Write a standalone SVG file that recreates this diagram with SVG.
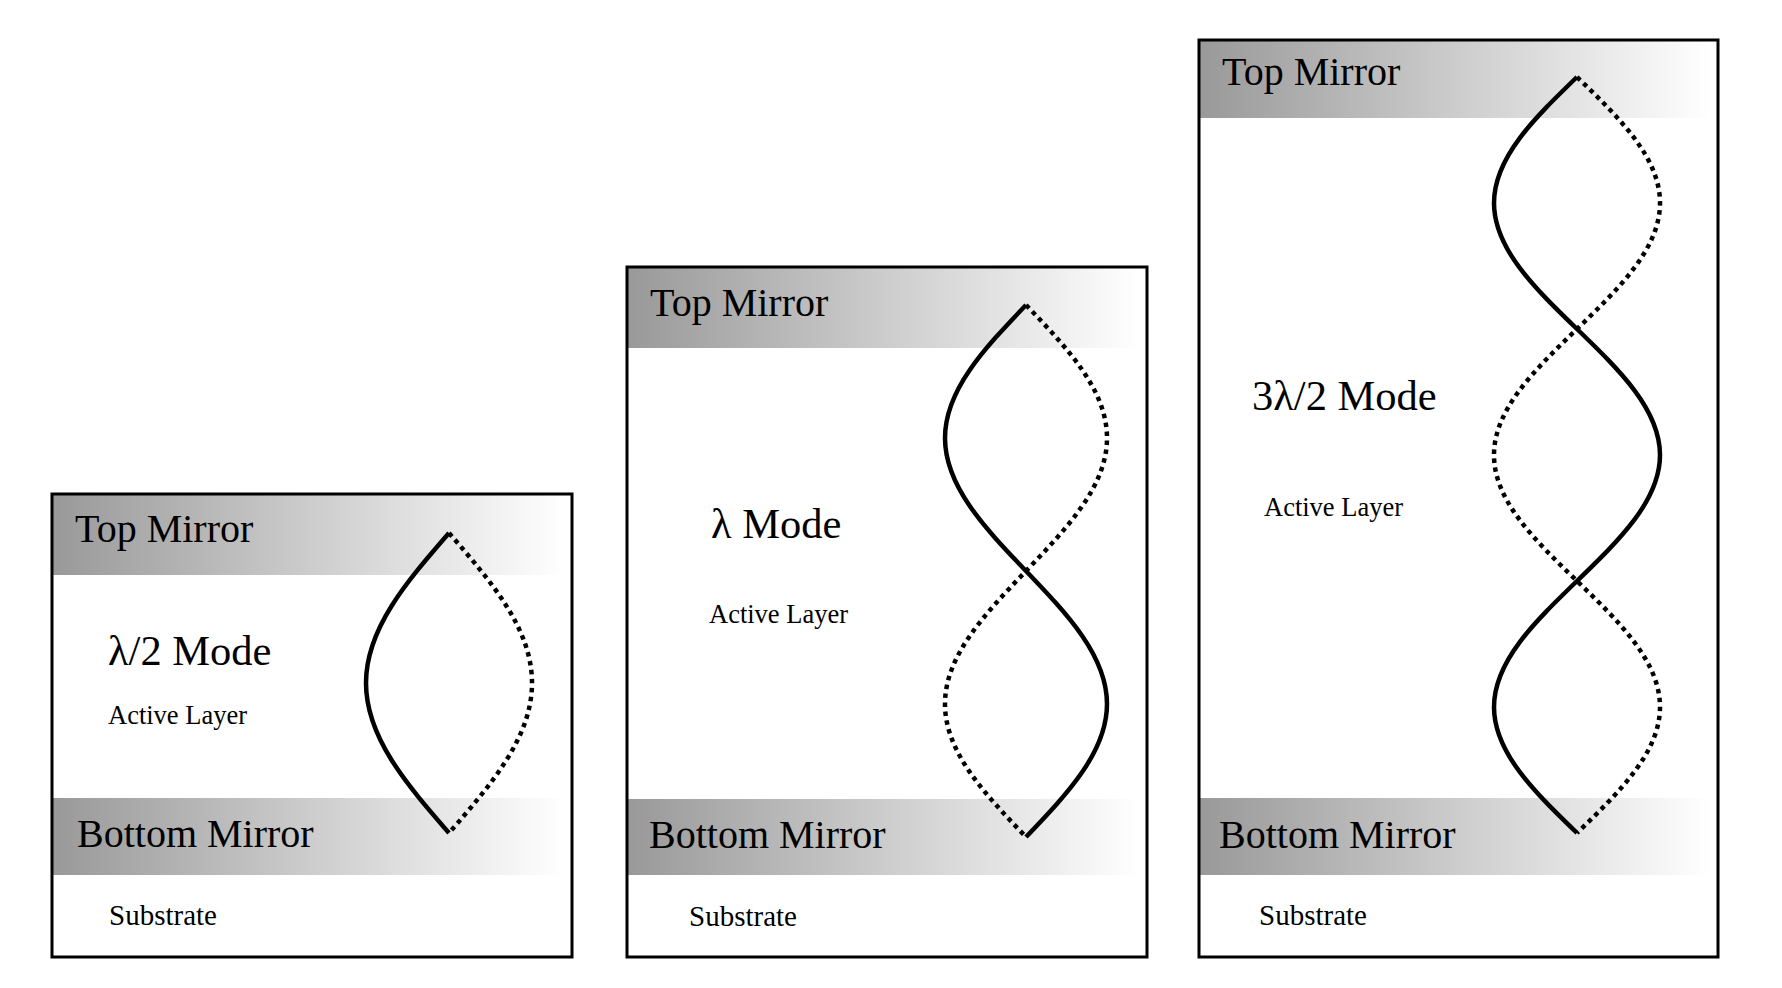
<svg xmlns="http://www.w3.org/2000/svg" width="1782" height="988" viewBox="0 0 1782 988">
<defs>
<linearGradient id="mg" x1="0" y1="0" x2="1" y2="0">
<stop offset="0" stop-color="#999999"/>
<stop offset="1" stop-color="#ffffff"/>
</linearGradient>
<style>
.box{fill:none;stroke:#000;stroke-width:3}
.band{fill:url(#mg)}
.t{font-family:"Liberation Serif","Times New Roman",serif;fill:#000}
.big{font-size:40px}
.mode{font-size:42.5px}
.al{font-size:26.5px}
.sub{font-size:29px}
.solid{fill:none;stroke:#000;stroke-width:4.5}
.dot{fill:none;stroke:#000;stroke-width:4.5;stroke-dasharray:4.5 4.5}
</style>
</defs>
<rect width="1782" height="988" fill="#fff"/>
<g id="node-half">
<rect x="52" y="494" width="513" height="81" class="band"/>
<rect x="52" y="798" width="513" height="77" class="band"/>
<rect x="52" y="494" width="520" height="463" class="box"/>
<text x="75" y="542" class="t big">Top Mirror</text>
<text x="108" y="665" class="t mode">λ/2 Mode</text>
<text x="108" y="724" class="t al">Active Layer</text>
<text x="77" y="847" class="t big">Bottom Mirror</text>
<text x="109" y="925" class="t sub">Substrate</text>
</g>
<g id="node-full">
<rect x="627" y="267" width="513" height="81" class="band"/>
<rect x="627" y="799" width="513" height="76" class="band"/>
<rect x="627" y="267" width="520" height="690" class="box"/>
<text x="650" y="316" class="t big">Top Mirror</text>
<text x="711" y="538" class="t mode">λ Mode</text>
<text x="709" y="623" class="t al">Active Layer</text>
<text x="649" y="848" class="t big">Bottom Mirror</text>
<text x="689" y="926" class="t sub">Substrate</text>
</g>
<g id="node-three-half">
<rect x="1199" y="40" width="512" height="78" class="band"/>
<rect x="1199" y="798" width="512" height="77" class="band"/>
<rect x="1199" y="40" width="519" height="917" class="box"/>
<text x="1222" y="85" class="t big">Top Mirror</text>
<text x="1252" y="410" class="t mode">3λ/2 Mode</text>
<text x="1264" y="516" class="t al">Active Layer</text>
<text x="1219" y="848" class="t big">Bottom Mirror</text>
<text x="1259" y="925" class="t sub">Substrate</text>
</g>
<g id="connectors">
<path class="solid" d="M449,533 C406.5,581.9 366,628.7 366,683 C366,737.3 406.5,784.1 449,833"/>
<path class="dot" d="M449,533 C491.5,581.9 532,628.7 532,683 C532,737.3 491.5,784.1 449,833"/>
<path class="solid" d="M1026,305 C984.5,348.4 945,389.9 945,438 C945,486.1 984.5,527.6 1026,571 C1067.5,614.4 1107,655.9 1107,704 C1107,752.1 1067.5,793.6 1026,837"/>
<path class="dot" d="M1026,305 C1067.5,348.4 1107,389.9 1107,438 C1107,486.1 1067.5,527.6 1026,571 C984.5,614.4 945,655.9 945,704 C945,752.1 984.5,793.6 1026,837"/>
<path class="solid" d="M1577,77 C1534.5,118.1 1494,157.4 1494,203 C1494,248.6 1534.5,287.9 1577,329 C1619.5,370.1 1660,409.4 1660,455 C1660,500.6 1619.5,539.9 1577,581 C1534.5,622.1 1494,661.4 1494,707 C1494,752.6 1534.5,791.9 1577,833"/>
<path class="dot" d="M1577,77 C1619.5,118.1 1660,157.4 1660,203 C1660,248.6 1619.5,287.9 1577,329 C1534.5,370.1 1494,409.4 1494,455 C1494,500.6 1534.5,539.9 1577,581 C1619.5,622.1 1660,661.4 1660,707 C1660,752.6 1619.5,791.9 1577,833"/>
</g>
</svg>
